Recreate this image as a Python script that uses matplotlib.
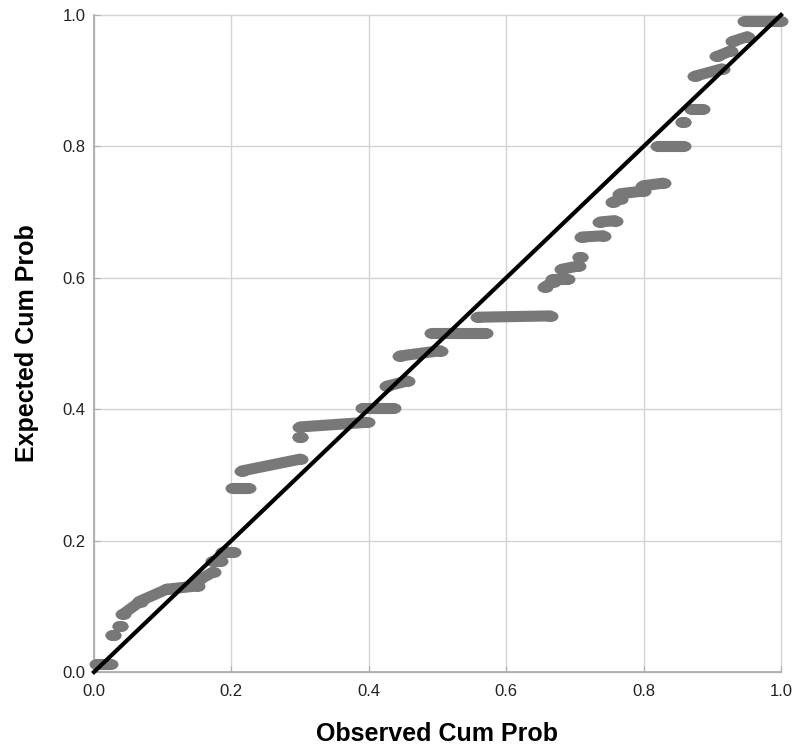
import matplotlib
matplotlib.use('Agg')
import matplotlib.pyplot as plt
import numpy as np
from matplotlib.path import Path
from matplotlib.transforms import Affine2D

plt.rcParams['font.family'] = ['Liberation Sans', 'DejaVu Sans']

# P-P plot clusters: each run of overlapping points given as start/end
obs_start = [0.004, 0.028, 0.038, 0.042, 0.067, 0.106, 0.150, 0.173, 0.188, 0.202,
             0.215, 0.300, 0.300, 0.392, 0.426, 0.445, 0.492, 0.559, 0.656, 0.668,
             0.681, 0.707, 0.710, 0.737, 0.755, 0.766, 0.799, 0.821, 0.857, 0.870,
             0.875, 0.907, 0.930, 0.948]
obs_end = [0.023, 0.028, 0.038, 0.067, 0.106, 0.150, 0.173, 0.183, 0.202, 0.224,
           0.300, 0.300, 0.397, 0.435, 0.456, 0.504, 0.569, 0.664, 0.668, 0.689,
           0.705, 0.707, 0.741, 0.758, 0.766, 0.799, 0.828, 0.857, 0.857, 0.885,
           0.914, 0.926, 0.951, 0.998]
exp_start = [0.012, 0.056, 0.070, 0.088, 0.108, 0.126, 0.138, 0.169, 0.183, 0.280,
             0.306, 0.358, 0.373, 0.402, 0.435, 0.481, 0.516, 0.540, 0.586, 0.598,
             0.613, 0.632, 0.662, 0.685, 0.715, 0.728, 0.740, 0.800, 0.837, 0.857,
             0.907, 0.937, 0.960, 0.991]
exp_end = [0.012, 0.056, 0.070, 0.107, 0.126, 0.131, 0.152, 0.169, 0.183, 0.280,
           0.324, 0.358, 0.380, 0.402, 0.443, 0.489, 0.516, 0.542, 0.594, 0.598,
           0.618, 0.632, 0.664, 0.687, 0.720, 0.732, 0.744, 0.800, 0.837, 0.857,
           0.918, 0.945, 0.967, 0.991]

ticks = [0.0, 0.2, 0.4, 0.6, 0.8, 1.0]
tick_labels = ['0.0', '0.2', '0.4', '0.6', '0.8', '1.0']

fig, ax = plt.subplots(figsize=(7.95, 7.47), dpi=100)
fig.subplots_adjust(left=94/795, right=781/795, bottom=1-672/747, top=1-15/747)

ell = Path.unit_circle().transformed(Affine2D().scale(1.45, 1.0))
pt_col = '#787878'
for x0, x1, y0, y1 in zip(obs_start, obs_end, exp_start, exp_end):
    ax.plot([x0, x1], [y0, y1], color=pt_col, lw=8, solid_capstyle='round',
            marker=ell, markersize=11.5, markeredgewidth=0, markerfacecolor=pt_col,
            zorder=3, clip_on=False)

ax.plot([0, 1], [0, 1], color='black', lw=3, zorder=4, clip_on=False)

ax.set_xlim(0, 1)
ax.set_ylim(0, 1)
ax.set_xticks(ticks)
ax.set_xticklabels(tick_labels)
ax.set_yticks(ticks)
ax.set_yticklabels(tick_labels)
ax.tick_params(direction='in', length=4, color='#b0b0b0', labelsize=12,
               labelcolor='#222222')
ax.tick_params(axis='x', pad=9)
ax.tick_params(axis='y', pad=6)
ax.grid(color='#d4d4d4', lw=1)
for gl in ax.get_xgridlines() + ax.get_ygridlines():
    gl.set_clip_on(False)
ax.set_axisbelow(True)
for s in ['top', 'right']:
    ax.spines[s].set_visible(False)
for s in ['left', 'bottom']:
    ax.spines[s].set_color('#a8a8a8')
    ax.spines[s].set_linewidth(1.2)

ax.set_xlabel('Observed Cum Prob', fontsize=18, fontweight='bold', labelpad=16)
ax.set_ylabel('Expected Cum Prob', fontsize=18, fontweight='bold', labelpad=17)

fig.savefig('out.png', facecolor='white')
